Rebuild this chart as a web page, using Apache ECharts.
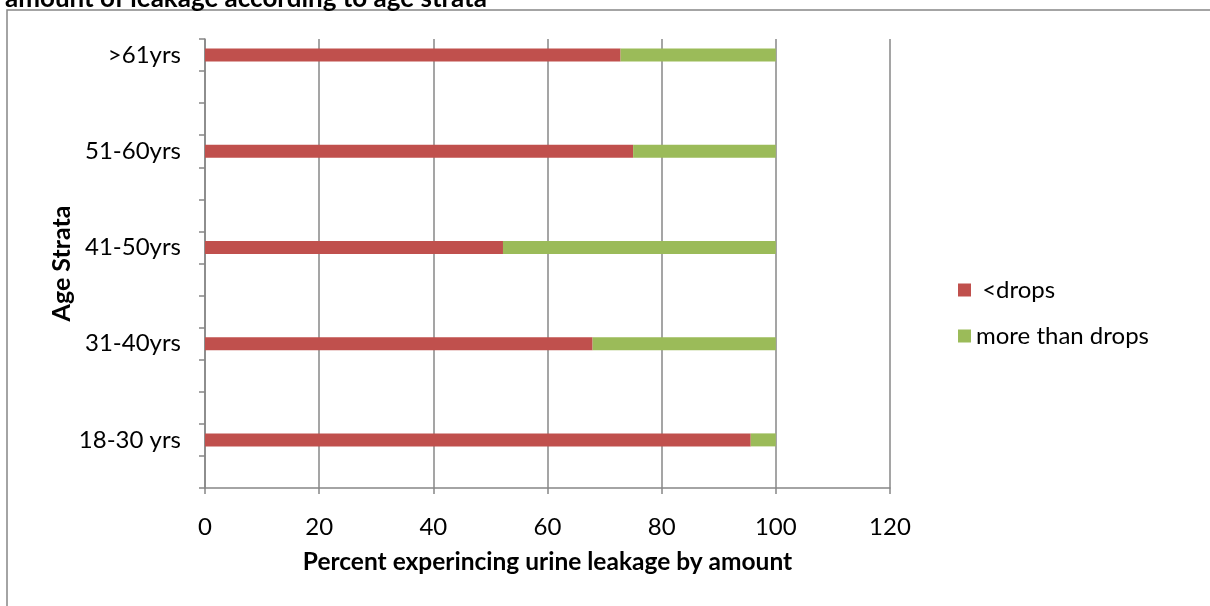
<!DOCTYPE html>
<html>
<head>
<meta charset="utf-8">
<script src="https://cdn.jsdelivr.net/npm/echarts@6/dist/echarts.min.js"></script>
<style>
  html, body { margin: 0; padding: 0; background: #fff; }
  #chart { width: 1210px; height: 606px; }
</style>
</head>
<body>
<div id="chart"></div>
<script>
// age strata, bottom to top; blank slots are the empty rows between groups
const ageLabels = ['', '18-30 yrs', '', '', '31-40yrs', '', '', '41-50yrs', '', '', '51-60yrs', '', '', '>61yrs'];
const lessThanDrops = [null, 95.6, null, null, 67.9, null, null, 52.2, null, null, 75.0, null, null, 72.8];
const moreThanDrops = [null, 4.4, null, null, 32.1, null, null, 47.8, null, null, 25.0, null, null, 27.2];
const percentTicks = [0, 20, 40, 60, 80, 100, 120];

const font = 'Lato, Calibri, "Liberation Sans", sans-serif';
const gray = '#878787';

const chart = echarts.init(document.getElementById('chart'));

chart.setOption({
  animation: false,
  title: {
    text: 'amount of leakage according to age strata',
    left: 0,
    top: -19,
    textStyle: { fontFamily: font, fontSize: 26, fontWeight: 'bold', color: '#000' }
  },
  graphic: [{
    type: 'rect',
    shape: { x: 7, y: 10, width: 1230, height: 610 },
    style: { fill: 'none', stroke: gray, lineWidth: 1.5 },
    silent: true
  }],
  legend: {
    orient: 'vertical',
    left: 953,
    top: 273,
    itemWidth: 13,
    itemHeight: 13,
    itemGap: 22,
    icon: 'rect',
    textStyle: { fontFamily: font, fontSize: 24, color: '#000' },
    formatter: function (name) { return name === '<drops' ? ' <drops' : name; },
    data: ['<drops', 'more than drops']
  },
  grid: { left: 205, right: 320, top: 39, bottom: 118 },
  xAxis: {
    type: 'value',
    min: 0,
    max: 120,
    interval: 20,
    name: 'Percent experincing urine leakage by amount',
    nameLocation: 'middle',
    nameGap: 62,
    nameTextStyle: { fontFamily: font, fontSize: 24.5, fontWeight: 'bold', color: '#000' },
    axisLine: { show: true, lineStyle: { color: gray, width: 1.5 } },
    axisTick: { show: true, length: 6, lineStyle: { color: gray, width: 1.5 } },
    axisLabel: {
      margin: 27,
      fontFamily: font, fontSize: 24, color: '#000',
      formatter: function (v) { return percentTicks.indexOf(v) >= 0 ? String(v) : ''; }
    },
    splitLine: { show: true, lineStyle: { color: gray, width: 1.5 } }
  },
  yAxis: {
    type: 'category',
    data: ageLabels,
    name: 'Age Strata',
    nameLocation: 'middle',
    nameGap: 131,
    nameMoveOverlap: false,
    nameRotate: 90,
    nameTextStyle: { fontFamily: font, fontSize: 25, fontWeight: 'bold', color: '#000' },
    axisLine: { show: true, lineStyle: { color: gray, width: 1.5 } },
    axisTick: { show: true, length: 6, interval: 0, lineStyle: { color: gray, width: 1.5 } },
    axisLabel: { interval: 0, margin: 24, fontFamily: font, fontSize: 24, color: '#000' },
    splitLine: { show: false }
  },
  series: [{
    name: '<drops',
    type: 'bar',
    stack: 'amount',
    barWidth: 13,
    itemStyle: { color: '#C0504D' },
    data: lessThanDrops
  }, {
    name: 'more than drops',
    type: 'bar',
    stack: 'amount',
    barWidth: 13,
    itemStyle: { color: '#9BBB59' },
    data: moreThanDrops
  }]
});
</script>
</body>
</html>
